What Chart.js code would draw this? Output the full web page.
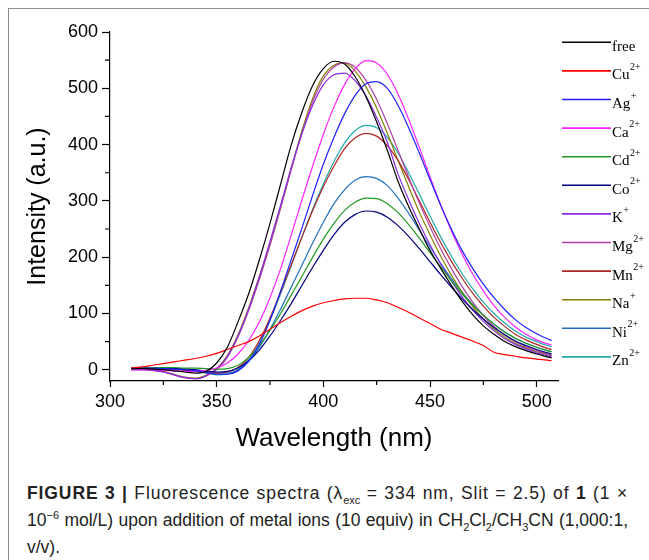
<!DOCTYPE html>
<html>
<head>
<meta charset="utf-8">
<script src="https://cdn.jsdelivr.net/npm/chart.js@4.4.1/dist/chart.umd.min.js"></script>
<style>
  html, body { margin: 0; padding: 0; background: #fff; }
  body { width: 649px; height: 560px; position: relative; overflow: hidden; }
  #frame { position: absolute; left: 8px; top: 8px; right: 0; bottom: 0;
           border-left: 1px solid #8c8c8c; border-top: 1px solid #8c8c8c; }
  #chart { position: absolute; left: 0; top: 0; }
  #caption { position: absolute; left: 27px; top: 480px; width: 601px; white-space: nowrap;
             font: 17.5px/27px "Liberation Sans", Arial, sans-serif; color: #222; }
  #caption .jl { text-align: justify; text-align-last: justify; }
  #caption .wide { letter-spacing: 0.9px; }
  #caption b { font-weight: bold; }
  #caption sub, #caption sup { font-size: 11px; line-height: 0; letter-spacing: 0; }
</style>
</head>
<body>
<div id="frame"></div>
<canvas id="chart" width="649" height="460"></canvas>
<div id="caption">
  <div class="jl wide"><b>FIGURE 3 |</b> Fluorescence spectra (λ<sub>exc</sub> = 334 nm, Slit = 2.5) of <b>1</b> (1 ×</div>
  <div class="jl">10<sup>−6</sup> mol/L) upon addition of metal ions (10 equiv) in CH<sub>2</sub>Cl<sub>2</sub>/CH<sub>3</sub>CN (1,000:1,</div>
  <div>v/v).</div>
</div>
<script>
(function () {
  "use strict";

  // wavelengths (nm)
  const wavelengths = [310, 315, 320, 325, 330, 335, 340, 345, 350, 355,
    360, 365, 370, 375, 380, 385, 390, 395, 400, 405,
    410, 415, 420, 425, 430, 435, 440, 445, 450, 455,
    460, 465, 470, 475, 480, 485, 490, 495, 500, 505, 507];

  // legend names and charges
  const ions    = ['free', 'Cu', 'Ag', 'Ca', 'Cd', 'Co', 'K', 'Mg', 'Mn', 'Na', 'Ni', 'Zn'];
  const charges = ['',     '2+', '+',  '2+', '2+', '2+', '+', '2+', '2+', '+',  '2+', '2+'];

  // intensities (a.u.)
  const free = [2, 2, 1, 0, -2, -4, -6, -3, 12, 40,
    85, 135, 195, 260, 330, 400, 458, 505, 535, 548,
    543, 520, 485, 440, 390, 335, 290, 250, 212, 180,
    150, 122, 98, 78, 63, 50, 41, 34, 28, 23, 21];
  const cu = [3, 5, 8, 11, 14, 17, 20, 24, 29, 36,
    43, 50, 60, 72, 84, 95, 105, 113, 119, 123,
    126, 127, 127, 124, 119, 111, 102, 92, 82, 72,
    65, 58, 51, 43, 31, 27, 24, 21, 19, 17, 16];
  const ag = [3, 3, 3, 2, 1, 0, -2, -5, -8, -8,
    -2, 15, 45, 88, 140, 196, 252, 310, 365, 413,
    455, 488, 508, 512, 500, 470, 430, 385, 338, 292,
    250, 212, 180, 152, 128, 107, 89, 75, 64, 55, 52];
  const ca = [0, 0, 0, -1, -2, -3, -3, -1, 3, 12,
    28, 52, 85, 128, 180, 240, 302, 362, 418, 467,
    507, 535, 549, 545, 525, 490, 445, 395, 343, 293,
    247, 206, 170, 140, 114, 93, 76, 63, 53, 46, 44];
  const cd = [4, 4, 4, 4, 4, 3, 3, 2, 1, 2,
    8, 22, 43, 70, 100, 133, 166, 200, 232, 260,
    283, 298, 305, 304, 295, 279, 258, 234, 208, 183,
    158, 135, 115, 97, 81, 67, 56, 47, 40, 34, 32];
  const co = [4, 4, 4, 3, 2, 1, 0, -2, -4, -3,
    3, 16, 35, 60, 88, 118, 150, 182, 212, 240,
    262, 276, 282, 280, 271, 256, 237, 215, 192, 169,
    147, 126, 107, 90, 75, 62, 51, 43, 36, 30, 28];
  const k = [0, 0, -1, -4, -9, -14, -16, -11, 1, 24,
    60, 108, 165, 228, 293, 360, 420, 470, 506, 524,
    527, 513, 486, 448, 404, 348, 302, 260, 222, 188,
    158, 130, 106, 86, 69, 55, 45, 37, 30, 25, 23];
  const mg = [0, 0, -1, -4, -9, -14, -16, -11, 0, 22,
    58, 105, 160, 222, 288, 356, 420, 476, 516, 538,
    545, 537, 514, 480, 437, 390, 342, 296, 254, 215,
    180, 148, 120, 96, 77, 62, 50, 41, 34, 28, 26];
  const mn = [2, 2, 2, 1, 0, -1, -3, -5, -6, -4,
    4, 22, 52, 92, 138, 187, 236, 283, 325, 362,
    393, 412, 420, 415, 398, 372, 338, 300, 262, 226,
    193, 163, 136, 113, 93, 77, 63, 53, 45, 38, 36];
  const na = [3, 2, 0, -3, -8, -13, -15, -10, 2, 25,
    62, 110, 166, 222, 288, 358, 425, 482, 522, 541,
    545, 530, 502, 465, 420, 372, 325, 280, 240, 202,
    168, 138, 112, 90, 72, 58, 47, 39, 32, 27, 25];
  const ni = [3, 3, 3, 3, 2, 1, 0, -3, -6, -6,
    0, 15, 40, 72, 108, 147, 186, 225, 262, 295,
    320, 337, 343, 340, 327, 305, 278, 248, 218, 189,
    162, 138, 116, 97, 81, 67, 56, 47, 40, 34, 32];
  const zn = [3, 3, 3, 2, 1, 0, -2, -6, -9, -8,
    0, 18, 48, 88, 135, 185, 236, 285, 330, 370,
    403, 425, 434, 430, 413, 385, 350, 312, 273, 236,
    202, 171, 144, 120, 100, 83, 69, 58, 50, 43, 41];

  const series = [free, cu, ag, ca, cd, co, k, mg, mn, na, ni, zn];
  const colors = ['#000000', '#ff0000', '#2020ff', '#ff22ff', '#229922', '#000080',
                  '#8a2be2', '#b040a0', '#b02525', '#808000', '#2070c0', '#22aaaa'];

  // axis ticks
  const xTicks = [300, 350, 400, 450, 500];
  const yTicks = [0, 100, 200, 300, 400, 500, 600];

  const mids = (arr) => arr.slice(1).map((v, i) => (arr[i] + v) / 2);
  const xMinor = mids(xTicks);
  const yMinor = mids(yTicks);

  const sansFont = '"Liberation Sans", Arial, sans-serif';

  // minor ticks + legend with superscripts
  const extras = {
    id: 'extras',
    afterDraw(chart) {
      const ctx = chart.ctx;
      const xs = chart.scales.x, ys = chart.scales.y;
      ctx.save();
      ctx.strokeStyle = '#000';
      ctx.lineWidth = 1.2;
      ctx.beginPath();
      yMinor.forEach(function (v) {
        const py = ys.getPixelForValue(v);
        ctx.moveTo(ys.right - 5, py);
        ctx.lineTo(ys.right, py);
      });
      xMinor.forEach(function (v) {
        const px = xs.getPixelForValue(v);
        ctx.moveTo(px, xs.top);
        ctx.lineTo(px, xs.top + 4);
      });
      ctx.stroke();

      // legend
      chart.data.datasets.forEach(function (ds, i) {
        const ly = 42.3 + i * 28.6;
        ctx.strokeStyle = ds.borderColor;
        ctx.lineWidth = 1.6;
        ctx.beginPath();
        ctx.moveTo(562, ly);
        ctx.lineTo(611, ly);
        ctx.stroke();
        ctx.fillStyle = '#000';
        ctx.textBaseline = 'alphabetic';
        ctx.textAlign = 'left';
        ctx.font = '15px "Liberation Serif", "Times New Roman", serif';
        ctx.fillText(ions[i], 612, ly + 8.5);
        if (charges[i]) {
          const w = ctx.measureText(ions[i]).width;
          ctx.font = '10px "Liberation Serif", "Times New Roman", serif';
          ctx.fillText(charges[i], 612 + w + 0.5, ly - 1);
        }
      });
      ctx.restore();
    }
  };

  const ctx = document.getElementById('chart').getContext('2d');
  new Chart(ctx, {
    type: 'line',
    data: {
      datasets: series.map(function (vals, i) {
        return {
          label: ions[i] + charges[i],
          data: wavelengths.map(function (w, j) { return { x: w, y: vals[j] }; }),
          borderColor: colors[i],
          borderWidth: 1.2,
          pointRadius: 0,
          cubicInterpolationMode: 'monotone',
          fill: false
        };
      })
    },
    options: {
      responsive: false,
      animation: false,
      devicePixelRatio: 1,
      layout: { padding: { top: 32, right: 91, left: 0, bottom: 0 } },
      plugins: {
        legend: { display: false },
        tooltip: { enabled: false }
      },
      scales: {
        x: {
          type: 'linear',
          min: 300,
          max: 510,
          afterBuildTicks: function (scale) { scale.ticks = xTicks.map(function (v) { return { value: v }; }); },
          afterFit: function (scale) { scale.height = 79; },
          border: { display: true, color: '#000', width: 1.2 },
          grid: { drawOnChartArea: false, tickLength: 6, tickColor: '#000', tickWidth: 1.2 },
          ticks: { color: '#000', padding: 4, maxRotation: 0, font: { family: sansFont, size: 18 } },
          title: {
            display: true,
            text: 'Wavelength (nm)',
            color: '#000',
            font: { family: sansFont, size: 26 },
            padding: { top: 0, bottom: 6 }
          }
        },
        y: {
          min: -20,
          max: 600,
          afterBuildTicks: function (scale) { scale.ticks = yTicks.map(function (v) { return { value: v }; }); },
          afterFit: function (scale) { scale.width = 110; },
          border: { display: true, color: '#000', width: 1.2 },
          grid: { drawOnChartArea: false, tickLength: 8, tickColor: '#000', tickWidth: 1.2 },
          ticks: { color: '#000', padding: 4, font: { family: sansFont, size: 18 } },
          title: {
            display: true,
            text: 'Intensity (a.u.)',
            color: '#000',
            font: { family: sansFont, size: 25 },
            padding: { top: 23, bottom: 0 }
          }
        }
      }
    },
    plugins: [extras]
  });
})();
</script>
</body>
</html>
